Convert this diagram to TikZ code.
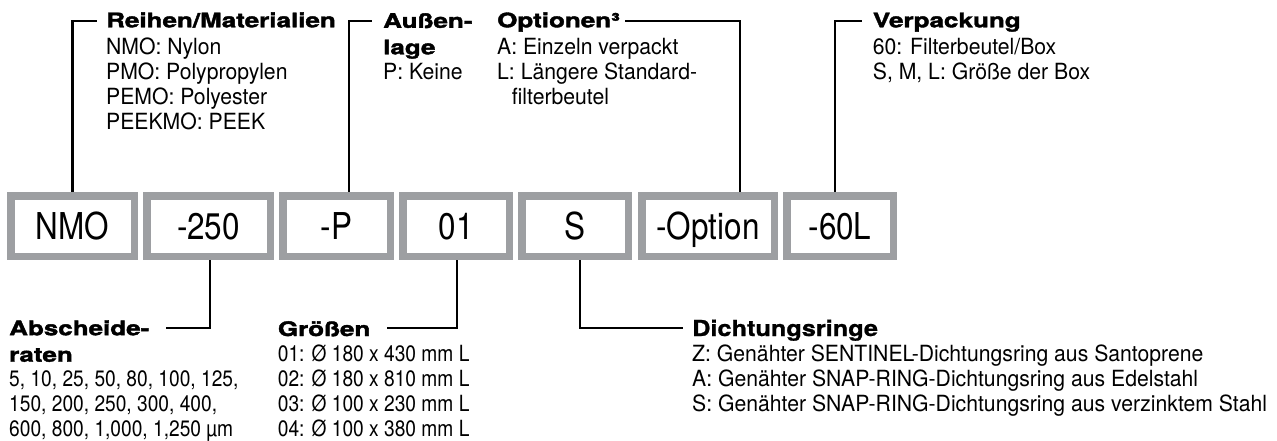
\documentclass[tikz,border=0pt]{standalone}
\usepackage{fontspec}
\setmainfont{TeX Gyre Heros}
\newfontfamily\bodyf[FakeStretch=0.95]{TeX Gyre Heros}
\newfontfamily\numf[FakeStretch=0.86]{TeX Gyre Heros}
\newfontfamily\boxf[FakeStretch=0.85]{TeX Gyre Heros}
\newfontfamily\ttlf[FakeStretch=1.3,BoldFeatures={FakeBold=2}]{TeX Gyre Heros}
\newfontfamily\dttlf[FakeStretch=1.15,BoldFeatures={FakeBold=1}]{TeX Gyre Heros}
\usetikzlibrary{backgrounds}
\definecolor{boxgray}{RGB}{157,159,162}
\begin{document}
\begin{tikzpicture}[x=1pt,y=-1pt,
  code/.style={draw=boxgray,line width=7.5pt,fill=white,inner sep=0pt,
    minimum height=60.5pt,font=\boxf\fontsize{37}{40}\selectfont,
    text height=26.7pt,text depth=0pt},
  ttl/.style={anchor=base west,inner sep=0pt,align=left,
    font=\ttlf\bfseries\fontsize{20}{26.5}\selectfont},
  dttl/.style={anchor=base west,inner sep=0pt,align=left,
    font=\dttlf\bfseries\fontsize{22}{25}\selectfont},
  body/.style={anchor=base west,inner sep=0pt,align=left,
    font=\bodyf\fontsize{22.3}{25}\selectfont},
  nums/.style={anchor=base west,inner sep=0pt,align=left,
    font=\numf\fontsize{22.3}{25}\selectfont},
  conn/.style={line width=2.2pt,draw=black}]
\useasboundingbox (0,0) rectangle (1277,441);

% code boxes
\node[code,minimum width=123.5pt] (b1) at (72.5,226) {NMO};
\node[code,minimum width=123.5pt] (b2) at (208.5,226) {-250};
\node[code,minimum width=107.5pt] (b3) at (336.5,226) {-P};
\node[code,minimum width=106.5pt] (b4) at (456,226) {01};
\node[code,minimum width=106.5pt] (b5) at (575,226) {S};
\node[code,minimum width=132.5pt] (b6) at (708,226) {-Option};
\node[code,minimum width=106.5pt] (b7) at (840,226) {-60L};

% top labels (multi-line nodes are placed at the baseline of their last line)
\node[ttl] (t1) at (106,27.3) {Reihen/Materialien};
\node[body] (d1) at (106,129.4) {NMO: Nylon\\PMO: Polypropylen\\PEMO: Polyester\\PEEKMO: PEEK};
\node[ttl] (t2) at (383,54.3) {Außen-\\lage};
\node[body] (d2) at (383,79.4) {P: Keine};
\node[ttl] (t3) at (497,27.3) {Optionen³};
\node[body] (d3) at (497,104.4) {A: Einzeln verpackt\\L: Längere Standard-\\\hspace*{14.7pt}filterbeutel};
\node[ttl] (t4) at (872.7,27.3) {Verpackung};
\node[body] (d4) at (872.7,79.4) {60: Filterbeutel/Box\\S, M, L: Größe der Box};

% bottom labels
\node[ttl] (t5) at (9,361.7) {Abscheide-\\raten};
\node[nums] (d5) at (9,436.7) {5, 10, 25, 50, 80, 100, 125,\\150, 200, 250, 300, 400,\\600, 800, 1,000, 1,250 µm};
\node[ttl] (t6) at (277.7,336) {Größen};
\node[nums] (d6) at (277.7,436.7) {01: Ø 180 x 430 mm L\\02: Ø 180 x 810 mm L\\03: Ø 100 x 230 mm L\\04: Ø 100 x 380 mm L};
\node[dttl] (t7) at (692,336) {Dichtungsringe};
\node[body] (d7) at (692,411.7) {Z: Genähter SENTINEL-Dichtungsring aus Santoprene\\A: Genähter SNAP-RING-Dichtungsring aus Edelstahl\\S: Genähter SNAP-RING-Dichtungsring aus verzinktem Stahl};

% connector end points
\coordinate (k1) at (72.5,21);  \coordinate (e1) at (96.7,21);
\coordinate (k2) at (349,21);   \coordinate (e2) at (371.7,21);
\coordinate (k3) at (740,21);   \coordinate (e3) at (625,21);
\coordinate (k4) at (835,21);   \coordinate (e4) at (862,21);
\coordinate (k5) at (210,328);  \coordinate (e5) at (165.7,328);
\coordinate (k6) at (457.3,328); \coordinate (e6) at (386.7,328);
\coordinate (k7) at (580,328);  \coordinate (e7) at (683,328);

\begin{pgfonlayer}{background}
\fill[white] (0,0) rectangle (1277,441);
\draw[conn] (k1 |- b1.north) -- (k1) -- (e1);
\draw[conn] (k2 |- b3.north) -- (k2) -- (e2);
\draw[conn] (k3 |- b6.north) -- (k3) -- (e3);
\draw[conn] (k4 |- b7.north) -- (k4) -- (e4);
\draw[conn] (k5 |- b2.south) -- (k5) -- (e5);
\draw[conn] (k6 |- b4.south) -- (k6) -- (e6);
\draw[conn] (k7 |- b5.south) -- (k7) -- (e7);
\end{pgfonlayer}
\end{tikzpicture}
\end{document}
